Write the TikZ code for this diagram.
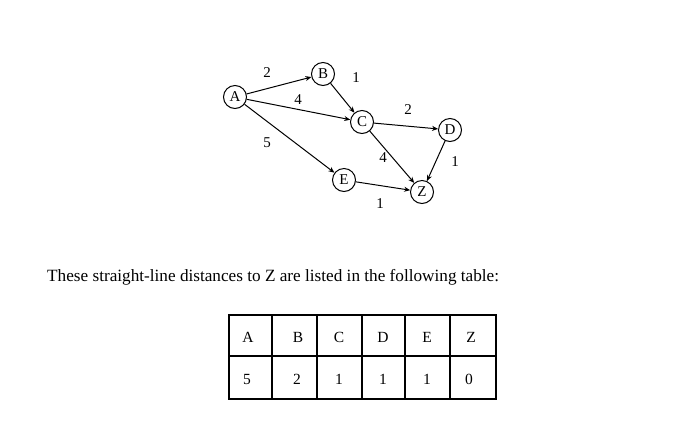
\documentclass[tikz,border=0pt]{standalone}
\usepackage{fontspec}
\setmainfont{Liberation Serif}
\usetikzlibrary{arrows.meta}
\begin{document}
\begin{tikzpicture}[x=1pt,y=-1pt,
  vtx/.style={circle,draw,line width=1pt,minimum size=23pt,inner sep=0pt,font=\fontsize{15}{15}\selectfont},
  edge/.style={line width=1pt,-{Stealth[length=6pt,width=5pt]}},
  wlab/.style={font=\fontsize{15}{15}\selectfont,inner sep=0pt},
  cell/.style={font=\fontsize{15.5}{15.5}\selectfont,inner sep=0pt},
  tline/.style={line width=2.8pt}]
\useasboundingbox (0,0) rectangle (682,424);
\node[vtx] (A) at (235,97) {A};
\node[vtx] (B) at (323,74) {B};
\node[vtx] (C) at (362,122) {C};
\node[vtx] (D) at (450,130) {D};
\node[vtx] (E) at (344,180) {E};
\node[vtx] (Z) at (422,192) {Z};
\draw[edge] (A) -- (B);
\draw[edge] (A) -- (C);
\draw[edge] (A) -- (E);
\draw[edge] (B) -- (C);
\draw[edge] (C) -- (D);
\draw[edge] (C) -- (Z);
\draw[edge] (D) -- (Z);
\draw[edge] (E) -- (Z);
\node[wlab] (w1) at (267,73) {2};
\node[wlab] (w2) at (356,78) {1};
\node[wlab] (w3) at (298,100) {4};
\node[wlab] (w4) at (408,110) {2};
\node[wlab] (w5) at (267,143) {5};
\node[wlab] (w6) at (383,158) {4};
\node[wlab] (w7) at (455,162) {1};
\node[wlab] (w8) at (380,204) {1};
\node[anchor=base west,inner sep=0pt,font=\fontsize{17.2}{17.2}\selectfont] (txt) at (47,281) {These straight-line distances to Z are listed in the following table:};
% table
\draw[tline] (229,315) rectangle (496,399);
\draw[tline] (229,356) -- (496,356);
\foreach \x in {272,317,362,405,450} \draw[tline] (\x,315) -- (\x,399);
\node[cell] (hA) at (248,337) {A};
\node[cell] (hB) at (298,337) {B};
\node[cell] (hC) at (339,337) {C};
\node[cell] (hD) at (383,337) {D};
\node[cell] (hE) at (427,337) {E};
\node[cell] (hZ) at (471,337) {Z};
\node[cell] (v1) at (247,379) {5};
\node[cell] (v2) at (297,379) {2};
\node[cell] (v3) at (339,379) {1};
\node[cell] (v4) at (383,379) {1};
\node[cell] (v5) at (427,379) {1};
\node[cell] (v6) at (469,379) {0};
\end{tikzpicture}
\end{document}
